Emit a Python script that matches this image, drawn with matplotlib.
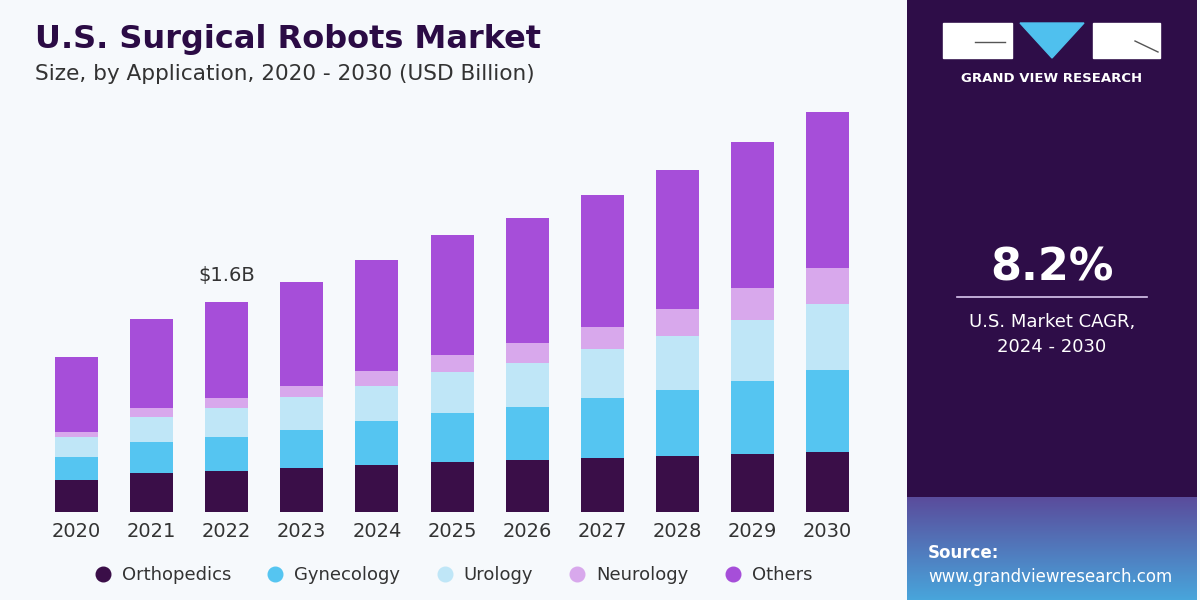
import numpy as np
import matplotlib.pyplot as plt
from matplotlib.patches import Rectangle, Polygon
from matplotlib.lines import Line2D

# data (USD billion)
years = ['2020', '2021', '2022', '2023', '2024', '2025', '2026', '2027', '2028', '2029', '2030']
orthopedics = [0.244, 0.295, 0.315, 0.333, 0.358, 0.383, 0.396, 0.409, 0.426, 0.442, 0.459]
gynecology = [0.175, 0.236, 0.259, 0.292, 0.337, 0.369, 0.406, 0.462, 0.503, 0.556, 0.622]
urology = [0.155, 0.195, 0.216, 0.254, 0.267, 0.317, 0.331, 0.369, 0.411, 0.465, 0.500]
neurology = [0.038, 0.064, 0.076, 0.081, 0.112, 0.127, 0.152, 0.172, 0.203, 0.241, 0.274]
others = [0.567, 0.678, 0.736, 0.790, 0.845, 0.914, 0.952, 1.003, 1.061, 1.117, 1.188]

series = [orthopedics, gynecology, urology, neurology, others]
names = ['Orthopedics', 'Gynecology', 'Urology', 'Neurology', 'Others']
colors = ['#3a0e48', '#55c5f1', '#bfe6f7', '#d8a8ec', '#a64ed9']

W, H = 1200, 600
fig = plt.figure(figsize=(12, 6), dpi=100)
fig.patch.set_facecolor('#f6f9fc')

# main chart
ax = fig.add_axes([20 / W, 88 / H, 860 / W, 412 / H])
ax.set_facecolor('none')
x = np.arange(len(years))
bottom = np.zeros(len(years))
for vals, c in zip(series, colors):
    ax.bar(x, vals, 0.573, bottom=bottom, color=c, linewidth=0)
    bottom += np.array(vals)
ax.set_xlim(-0.752, 10.698)
ax.set_ylim(0, 3.138)
ax.set_xticks(x)
ax.set_xticklabels(years, fontsize=14, color='#333333')
ax.tick_params(axis='x', length=0, pad=7)
ax.set_yticks([])
for s in ax.spines.values():
    s.set_visible(False)
ax.text(2, bottom[2] + 0.13, '$1.6B', ha='center', va='bottom', fontsize=14, color='#333333')

# titles
fig.text(35 / W, 1 - 48 / H, 'U.S. Surgical Robots Market', fontsize=23, fontweight='bold',
         color='#2b0b45', va='baseline', ha='left')
fig.text(35 / W, 1 - 80 / H, 'Size, by Application, 2020 - 2030 (USD Billion)', fontsize=15.6,
         color='#333333', va='baseline', ha='left')

# legend
handles = [Line2D([], [], marker='o', linestyle='', markersize=10.5, color=c) for c in colors]
fig.legend(handles, names, loc='center', bbox_to_anchor=(453 / W, 1 - 575 / H), ncol=5,
           frameon=False, fontsize=13, handletextpad=0.55, columnspacing=1.95,
           labelcolor='#333333', handlelength=1.0)

# right panel
px0, px1 = 907, 1197
pan = fig.add_axes([px0 / W, 0, (px1 - px0) / W, 1])
pan.set_xlim(0, 1)
pan.set_ylim(600, 0)
pan.axis('off')
top = np.array([0x2e, 0x0d, 0x48]) / 255
mid = np.array([0x5a, 0x4c, 0x9c]) / 255
low = np.array([0x48, 0xa6, 0xdc]) / 255
grad = np.zeros((600, 1, 3))
for i in range(600):
    if i < 497:
        grad[i, 0] = top
    else:
        t = (i - 497) / 103
        grad[i, 0] = mid * (1 - t) + low * t
pan.imshow(grad, extent=[0, 1, 600, 0], aspect='auto')

# logo
fig.patches.append(Rectangle((943 / W, 1 - 58 / H), 69 / W, 35 / H, transform=fig.transFigure,
                             color='white'))
fig.patches.append(Rectangle((1093 / W, 1 - 58 / H), 67 / W, 35 / H, transform=fig.transFigure,
                             color='white'))
fig.patches.append(Polygon([(1020 / W, 1 - 23 / H), (1084 / W, 1 - 23 / H), (1052 / W, 1 - 58 / H)],
                           closed=True, transform=fig.transFigure, color='#4fc0ee'))
fig.lines.append(Line2D([975 / W, 1005 / W], [1 - 42 / H, 1 - 42 / H], transform=fig.transFigure,
                        color='#555555', lw=1))
fig.lines.append(Line2D([1135 / W, 1158 / W], [1 - 41 / H, 1 - 52 / H], transform=fig.transFigure,
                        color='#555555', lw=1))
fig.text(1052 / W, 1 - 78 / H, 'GRAND VIEW RESEARCH', fontsize=9.5, fontweight='bold',
         color='white', ha='center', va='center')

# CAGR
fig.text(1052 / W, 1 - 268 / H, '8.2%', fontsize=32, fontweight='bold', color='white',
         ha='center', va='center')
fig.lines.append(Line2D([957 / W, 1147 / W], [1 - 297 / H, 1 - 297 / H], transform=fig.transFigure,
                        color='#d9c6ee', lw=1.2))
fig.text(1052 / W, 1 - 322 / H, 'U.S. Market CAGR,', fontsize=13, color='white', ha='center',
         va='center')
fig.text(1052 / W, 1 - 347 / H, '2024 - 2030', fontsize=13, color='white', ha='center',
         va='center')

# source
fig.text(928 / W, 1 - 553 / H, 'Source:', fontsize=12, fontweight='bold', color='white',
         ha='left', va='center')
fig.text(928 / W, 1 - 577 / H, 'www.grandviewresearch.com', fontsize=12, color='white',
         ha='left', va='center')

fig.savefig('out.png', dpi=100, facecolor=fig.get_facecolor())
